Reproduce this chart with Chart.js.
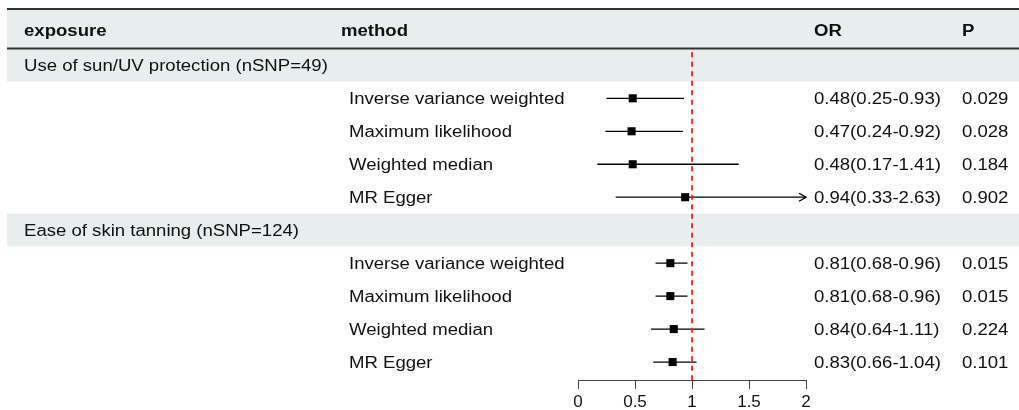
<!DOCTYPE html>
<html><head><meta charset="utf-8">
<script src="https://cdn.jsdelivr.net/npm/chart.js@4/dist/chart.umd.min.js"></script>
<style>html,body{margin:0;padding:0;background:#fff;overflow:hidden}</style>
</head><body>
<canvas id="c" width="1019" height="410" style="display:block;width:1019px;height:410px"></canvas>
<script>
// ---- data ----
const headers = ["exposure", "method", "OR", "P"];
const exposures = ["Use of sun/UV protection (nSNP=49)", "Ease of skin tanning (nSNP=124)"];
const methods = ["Inverse variance weighted", "Maximum likelihood", "Weighted median", "MR Egger"];
const orG1 = [0.48, 0.47, 0.48, 0.94];
const lowG1 = [0.25, 0.24, 0.17, 0.33];
const upG1 = [0.93, 0.92, 1.41, 2.63];
const pG1 = ["0.029", "0.028", "0.184", "0.902"];
const orG2 = [0.81, 0.81, 0.84, 0.83];
const lowG2 = [0.68, 0.68, 0.64, 0.66];
const upG2 = [0.96, 0.96, 1.11, 1.04];
const pG2 = ["0.015", "0.015", "0.224", "0.101"];
const xTicks = [0, 0.5, 1, 1.5, 2];
const refValue = 1;

// ---- table rows built from the arrays ----
const groups = [
  {name: exposures[0], or: orG1, lo: lowG1, hi: upG1, p: pG1},
  {name: exposures[1], or: orG2, lo: lowG2, hi: upG2, p: pG2}
];
const groupRows = [];
const estRows = [];
let r = 1;
groups.forEach(g => {
  groupRows.push({row: r, label: g.name});
  r++;
  methods.forEach((m, i) => {
    estRows.push({row: r, method: m, or: g.or[i], lo: g.lo[i], hi: g.hi[i], p: g.p[i]});
    r++;
  });
});

const FONT = "'Liberation Sans', Arial, Helvetica, sans-serif";
const SX = 1.16;
const TY = 1.5;
const HEAD_DY = -2.5;
const COL = {exposure: 24, methodHead: 341, method: 349, or: 814, p: 962};
const fmt = v => v.toFixed(2);

function txt(ctx, s, x, y, bold) {
  ctx.save();
  ctx.translate(x, y + TY);
  ctx.scale(SX, 1);
  ctx.font = (bold ? "bold " : "") + "16px " + FONT;
  ctx.fillStyle = "#111";
  ctx.textAlign = "left";
  ctx.textBaseline = "middle";
  ctx.fillText(s, 0, 0);
  ctx.restore();
}

const forestPlugin = {
  id: "forest",
  beforeDatasetsDraw(chart) {
    const ctx = chart.ctx, xs = chart.scales.x, ys = chart.scales.y, ca = chart.chartArea;
    const L = 7, R = 1019;
    ctx.save();
    // header band
    ctx.fillStyle = "#e8eded";
    const yHeadBottom = ys.getPixelForValue(0.485);
    ctx.fillRect(L, ca.top, R - L, yHeadBottom - ca.top);
    // group bands
    groupRows.forEach(g => {
      const t = ys.getPixelForValue(g.row - 0.5), b = ys.getPixelForValue(g.row + 0.49);
      ctx.fillRect(L, t, R - L, b - t);
    });
    // header rules
    ctx.strokeStyle = "#333";
    ctx.lineWidth = 2;
    [ca.top + 1, yHeadBottom].forEach(y => {
      ctx.beginPath(); ctx.moveTo(L, y); ctx.lineTo(R, y); ctx.stroke();
    });
    // CI lines
    ctx.strokeStyle = "#000";
    ctx.lineWidth = 1.3;
    estRows.forEach(e => {
      const y = ys.getPixelForValue(e.row);
      const x1 = xs.getPixelForValue(Math.max(e.lo, xs.min));
      const x2 = xs.getPixelForValue(Math.min(e.hi, xs.max));
      ctx.beginPath(); ctx.moveTo(x1, y); ctx.lineTo(x2, y); ctx.stroke();
      if (e.hi > xs.max) {
        ctx.beginPath();
        ctx.moveTo(x2 - 7, y - 4); ctx.lineTo(x2, y); ctx.lineTo(x2 - 7, y + 4);
        ctx.stroke();
      }
    });
    // reference line
    const xr = xs.getPixelForValue(refValue);
    ctx.strokeStyle = "#ff1a1a";
    ctx.lineWidth = 1.8;
    ctx.setLineDash([5, 4.5]);
    ctx.beginPath(); ctx.moveTo(xr, ys.getPixelForValue(0.6)); ctx.lineTo(xr, ca.bottom); ctx.stroke();
    ctx.restore();
  },
  afterDraw(chart) {
    const ctx = chart.ctx, ys = chart.scales.y;
    const yh = ys.getPixelForValue(0) + HEAD_DY;
    txt(ctx, headers[0], COL.exposure, yh, true);
    txt(ctx, headers[1], COL.methodHead, yh, true);
    txt(ctx, headers[2], COL.or, yh, true);
    txt(ctx, headers[3], COL.p, yh, true);
    groupRows.forEach(g => txt(ctx, g.label, COL.exposure, ys.getPixelForValue(g.row), false));
    estRows.forEach(e => {
      const y = ys.getPixelForValue(e.row);
      txt(ctx, e.method, COL.method, y, false);
      txt(ctx, fmt(e.or) + "(" + fmt(e.lo) + "-" + fmt(e.hi) + ")", COL.or, y, false);
      txt(ctx, e.p, COL.p, y, false);
    });
  }
};

new Chart(document.getElementById("c"), {
  type: "scatter",
  data: {
    datasets: [{
      data: estRows.map(e => ({x: e.or, y: e.row})),
      pointStyle: "rect",
      pointRadius: 5.7,
      pointHoverRadius: 5.7,
      backgroundColor: "#000",
      borderColor: "#000",
      borderWidth: 0
    }]
  },
  options: {
    responsive: false,
    animation: false,
    events: [],
    layout: {padding: {left: 578, right: 213, top: 8, bottom: 0}},
    plugins: {legend: {display: false}, tooltip: {enabled: false}},
    scales: {
      x: {
        type: "linear", min: 0, max: 2,
        afterBuildTicks: s => { s.ticks = xTicks.map(v => ({value: v})); },
        afterFit: s => { s.height = 30; },
        grid: {drawOnChartArea: false, drawTicks: true, tickLength: 9, color: "#444", tickWidth: 1},
        border: {display: true, color: "#444", width: 1},
        ticks: {font: {family: FONT, size: 17}, color: "#111", padding: 3, maxRotation: 0, callback: v => String(v)}
      },
      y: {type: "linear", display: false, min: -0.74, max: 10.545, reverse: true}
    }
  },
  plugins: [forestPlugin]
});
</script>
</body></html>
